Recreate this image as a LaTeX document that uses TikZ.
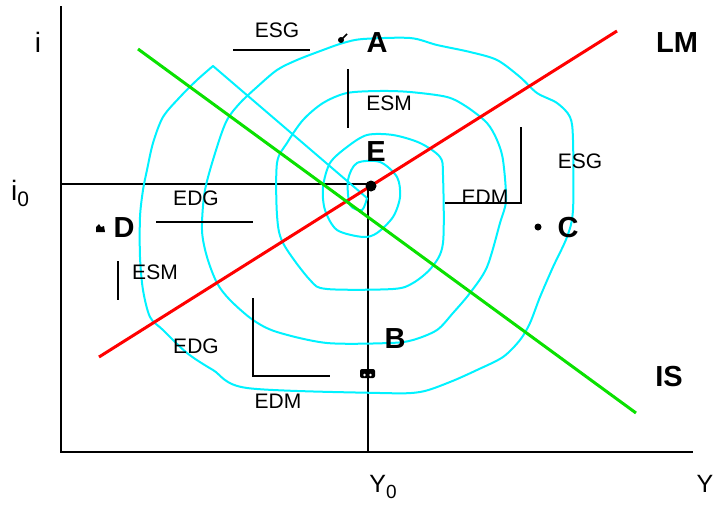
\documentclass[tikz,border=0pt]{standalone}
\usepackage{fontspec}
\setmainfont{Liberation Sans}
\definecolor{spiralcyan}{RGB}{0,242,255}
\definecolor{isgreen}{RGB}{10,225,0}
\begin{document}
\begin{tikzpicture}[x=1pt,y=-1pt,
  axis/.style={line width=2.6pt, black},
  guide/.style={line width=1.1pt, black},
  brk/.style={line width=1.6pt, black},
  lmline/.style={line width=3pt, red},
  isline/.style={line width=3pt, isgreen},
  spiral/.style={line width=2pt, spiralcyan, line join=round},
  big/.style={font=\fontsize{29}{32}\selectfont\bfseries, inner sep=0pt},
  small/.style={font=\fontsize{21}{23}\selectfont, inner sep=0pt},
  axlab/.style={font=\fontsize{28}{30}\selectfont, inner sep=0pt},
  xlab/.style={font=\fontsize{25}{27}\selectfont, inner sep=0pt}]
\useasboundingbox (0,0) rectangle (715,506);

% axes
\coordinate (ytop) at (61,6);
\coordinate (O) at (61,452);
\coordinate (xend) at (693,452);
\draw[axis] (ytop) -- (O) -- (xend);

% guide lines through equilibrium
\coordinate (i0p) at (61,184);
\coordinate (Ep) at (368,184);
\coordinate (Y0p) at (368,452);
\draw[guide] (i0p) -- (Ep) -- (Y0p);

% spiral
\draw[spiral] plot[smooth, tension=0.5] coordinates {
(367,198) (362,210) (350,205) (348,180) (357,163) (380,162) (397,177) (400,197)
(393,217) (377,233) (363,237) (337,230) (325,210) (323,187) (330,163) (347,147)
(367,135) (393,135) (420,143) (440,157) (443,175) (443,243) (432,267) (413,283)
(393,289) (327,289) (310,280) (283,243) (277,215) (277,163) (287,143) (303,120)
(323,103) (347,93) (380,91) (410,92) (447,97) (467,107) (487,123) (497,140)
(503,160) (506,200) (500,223) (487,267) (470,293) (453,313) (437,330) (413,340)
(390,343) (327,343) (277,332) (253,320) (230,300) (217,283) (207,257) (202,230)
(205,190) (217,147) (227,120) (240,103) (257,87) (277,70) (297,60) (323,50)
(343,43) (363,39) (410,38) (437,45) (470,52) (497,60) (520,77) (537,93)
(557,103) (570,117) (573,140) (573,210) (567,237) (553,267) (540,297) (530,323)
(520,340) (503,357) (477,370) (450,382) (420,392) (380,393) (247,388) (213,370)
(187,353) (163,330) (150,317) (143,290) (140,257) (140,217) (143,190) (147,170)
(153,143) (163,117) (180,97) (197,80) (213,66)} -- (367,198);

% LM and IS
\coordinate (lm1) at (99,357);
\coordinate (lm2) at (617,31);
\draw[lmline] (lm1) -- (lm2);
\coordinate (is1) at (138,49);
\coordinate (is2) at (636,413);
\draw[isline] (is1) -- (is2);

% bracket marks
\coordinate (b1a) at (233,50); \coordinate (b1b) at (310,50);
\draw[brk] (b1a) -- (b1b);
\coordinate (b2a) at (348,69); \coordinate (b2b) at (348,128);
\draw[brk] (b2a) -- (b2b);
\coordinate (b3a) at (521,127); \coordinate (b3b) at (521,203); \coordinate (b3c) at (445,203);
\draw[brk] (b3a) -- (b3b) -- (b3c);
\coordinate (b4a) at (156,222); \coordinate (b4b) at (253,222);
\draw[brk] (b4a) -- (b4b);
\coordinate (b5a) at (118,261); \coordinate (b5b) at (118,300);
\draw[brk] (b5a) -- (b5b);
\coordinate (b6a) at (253,298); \coordinate (b6b) at (253,376); \coordinate (b6c) at (330,376);
\draw[brk] (b6a) -- (b6b) -- (b6c);

% small labels
\node[small] (esg1) at (277,30) {ESG};
\node[small] (esm1) at (389,103) {ESM};
\node[small] (esg2) at (580,161) {ESG};
\node[small] (edm1) at (485,197) {EDM};
\node[small] (edg1) at (196,198) {EDG};
\node[small] (esm2) at (155,272) {ESM};
\node[small] (edg2) at (196,346) {EDG};
\node[small] (edm2) at (278,401) {EDM};

% point markers
\fill (341,40) circle (3);
\draw[line width=1.5pt] (341,40) -- (347,34);
\fill (371,186) circle (5.5);
\fill (96,232) -- (96,227) -- (99,224) -- (101,227) -- (104,226) -- (105,232) -- cycle;
\fill (538,227) circle (3.5);
\fill[rounded corners=2pt] (360,369) rectangle (375,378);
\fill[white] (364.5,375) circle (1.3);
\fill[white] (370.5,375) circle (1.3);

% point letters
\node[big] (A) at (377,43) {A};
\node[big] (E) at (376,152) {E};
\node[big] (B) at (395,339) {B};
\node[big] (C) at (568,228) {C};
\node[big] (D) at (124,228) {D};
\node[big] (LM) at (677,43) {LM};
\node[big] (IS) at (669,377) {IS};

% axis labels
\node[axlab] (ilab) at (38,42) {i};
\node[axlab, anchor=base] (i0lab) at (20,200) {i\raisebox{-0.22em}{\fontsize{21}{21}\selectfont 0}};
\node[xlab, anchor=base] (Y0lab) at (383,492) {Y\raisebox{-0.25em}{\fontsize{19}{19}\selectfont 0}};
\node[xlab, anchor=base] (Ylab) at (705,492) {Y};
\end{tikzpicture}
\end{document}
